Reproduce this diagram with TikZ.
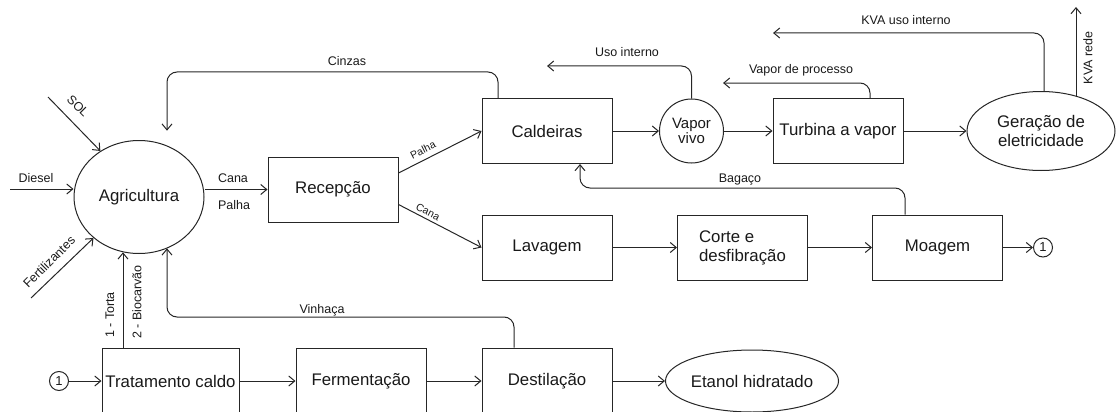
\documentclass[tikz,border=0pt]{standalone}
\usepackage{fontspec}
\setmainfont{Liberation Sans}
\usetikzlibrary{arrows.meta,shapes.geometric}
\begin{document}
\begin{tikzpicture}[x=1pt,y=-1pt,
  line/.style={draw=black!85, line width=1pt},
  arr/.style={line, -{Straight Barb[length=6pt,width=10pt]}},
  flowbend/.style={arr, rounded corners=10pt},
  blk/.style={draw=black!85, line width=1pt, minimum width=130pt, minimum height=65pt,
              inner sep=0pt, font=\fontsize{16.8}{19}\selectfont, text=black!90},
  oval/.style={blk, ellipse},
  lbl/.style={font=\fontsize{12.5}{14}\selectfont, text=black!90, inner sep=0pt},
  tinylbl/.style={font=\fontsize{10.5}{12}\selectfont, text=black!90, inner sep=0pt},
  refc/.style={circle, draw=black!85, line width=1pt, minimum size=19pt, inner sep=0pt,
               font=\fontsize{13}{14}\selectfont, text=black!90}
]
\useasboundingbox (0,0) rectangle (1116,412);
\clip (0,0) rectangle (1116,412);

% process blocks
\node[oval, minimum width=130pt, minimum height=113pt] (agri) at (139,197) {Agricultura};
\node[blk] (rec)  at (333,189.5) {Recepção};
\node[blk] (cald) at (547,131) {Caldeiras};
\node[blk, circle, minimum size=64pt, align=center, font=\fontsize{15}{15.5}\selectfont] (vap) at (691.5,131) {Vapor\\vivo};
\node[blk] (turb) at (838,131) {Turbina a vapor};
\node[oval, minimum width=148pt, minimum height=79pt, align=center] (ger) at (1041,131) {Geração de\\eletricidade};
\node[blk] (lav)   at (547,247.5) {Lavagem};
\node[blk, align=left] (corte) at (742.5,247.5) {Corte e\\desfibração};
\node[blk] (moag)  at (937.5,247.5) {Moagem};
\node[refc] (r2) at (1043,247.5) {1};
\node[refc] (r1) at (59,381) {1};
\node[blk, minimum width=137pt, minimum height=66pt] (trat) at (170.5,381) {Tratamento caldo};
\node[blk, minimum height=66pt] (ferm) at (361,381) {Fermentação};
\node[blk, minimum height=66pt] (dest) at (547,381) {Destilação};
\node[oval, minimum width=136pt, minimum height=62pt] (etan) at (752,381) {Etanol hidratado};

% inputs to agriculture
\coordinate (dsl) at (10,189);
\coordinate (sol) at (48,97);
\coordinate (fer) at (31,298);
\draw[arr] (dsl) -- (agri.west |- dsl);
\draw[arr] (sol) -- (agri.130);
\draw[arr] (fer) -- (agri.222);

% main flow
\draw[arr] (agri.east |- rec.west) -- (rec.west);
\draw[arr] ([yshift=16.5pt]rec.east) -- (cald.west);
\draw[arr] ([yshift=-15pt]rec.east) -- (lav.west);
\draw[arr] (cald) -- (vap);
\draw[arr] (vap) -- (turb);
\draw[arr] (turb) -- (ger);
\draw[arr] (lav) -- (corte);
\draw[arr] (corte) -- (moag);
\draw[arr] (moag) -- (r2);
\draw[arr] (r1) -- (trat);
\draw[arr] (trat) -- (ferm);
\draw[arr] (ferm) -- (dest);
\draw[arr] (dest) -- (etan);

% return flows
\coordinate (czR) at (498,72);
\coordinate (czL) at (167,72);
\draw[flowbend, shorten >=15pt] (cald.north -| czR) -- (czR) -- (czL) -- (agri.61 -| czL);

\coordinate (vhR) at (514,317);
\coordinate (vhL) at (167,317);
\draw[flowbend] (dest.north -| vhR) -- (vhR) -- (vhL) -- (agri.-61 -| vhL);

\coordinate (bgR) at (905,188);
\coordinate (bgL) at (580,188);
\draw[flowbend] (moag.north -| bgR) -- (bgR) -- (bgL) -- (cald.south -| bgL);

\coordinate (uiR) at (691.5,66);
\coordinate (uiL) at (547,66);
\draw[flowbend] (vap.north) -- (uiR) -- (uiL);

\coordinate (vpR) at (870,83);
\coordinate (vpL) at (723,83);
\draw[flowbend] (turb.north -| vpR) -- (vpR) -- (vpL);

\coordinate (kuR) at (1044,33);
\coordinate (kuL) at (773,33);
\draw[flowbend] (ger.north -| kuR) -- (kuR) -- (kuL);

\coordinate (kr) at (1076,7);
\draw[arr] (kr |- ger.45) -- (kr);

\coordinate (tk) at (123,300);
\draw[arr] (trat.north -| tk) -- (agri.254 -| tk);

% flow labels
\node[lbl] (lcz) at (347,61) {Cinzas};
\node[lbl] (lui) at (627,52) {Uso interno};
\node[lbl] (lvp) at (801,70) {Vapor de processo};
\node[lbl] (lku) at (906,20) {KVA uso interno};
\node[lbl, rotate=90] (lkr) at (1088,58) {KVA rede};
\node[lbl] (lbg) at (740,180) {Bagaço};
\node[lbl] (lvh) at (322,310) {Vinhaça};
\node[lbl] (lcn) at (233,178) {Cana};
\node[lbl] (lph) at (234,205) {Palha};
\node[lbl] (lds) at (36,178) {Diesel};
\node[lbl, rotate=-45] (lsol) at (78,106) {SOL};
\node[lbl, rotate=45] (lfer) at (49,262) {Fertilizantes};
\node[lbl, rotate=90] (lto) at (110,315) {1 - Torta};
\node[lbl, rotate=90] (lbio) at (137,302) {2 - Biocarvão};
\node[tinylbl, rotate=26.6] (lpa) at (423,150) {Palha};
\node[tinylbl, rotate=-27] (lca) at (428,212) {Cana};
\end{tikzpicture}
\end{document}
